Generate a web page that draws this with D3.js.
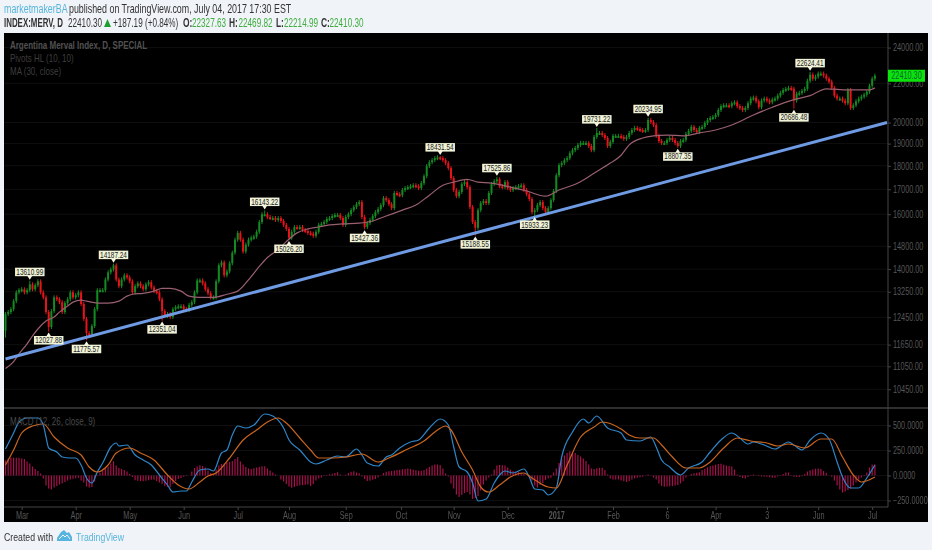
<!DOCTYPE html>
<html><head><meta charset="utf-8">
<script src="https://cdn.jsdelivr.net/npm/d3@7/dist/d3.min.js"></script>
<style>
html,body{margin:0;padding:0;background:#f0f3f8;}
svg{display:block;filter:blur(0.3px);}
text{font-family:"Liberation Sans",sans-serif;}
</style></head><body>
<svg id="c" width="932" height="550"></svg>
<script>
// ---- price data (one close per daily bar) ----
const firstOpen = 12050;
const closes = [
12550,12610,12700,12950,13230,13300,13330,13230,13300,13490,13330,13460,13590,13230,13070,12610,12160,12640,13070,13010,
12920,12610,12890,13010,13230,13070,13140,13230,12860,12400,11980,11950,12190,12700,13300,13300,13300,13650,13890,13990,
14130,13650,13430,13650,13790,13720,13590,13230,13430,13520,13430,13330,13490,13560,13390,13270,13230,13010,12640,12490,
12550,12460,12700,12760,12790,12790,12700,12670,12830,12920,13230,13620,13620,13520,13330,13200,13070,13070,13590,14130,
14230,13790,13920,14200,14570,15040,15290,15040,14610,14860,15040,15110,15150,15330,15700,16000,16000,15890,15850,15850,
15780,15850,15740,15590,15440,15110,15330,15510,15480,15510,15400,15360,15290,15260,15180,15330,15590,15630,15700,15820,
15850,15930,15970,15970,15850,15590,15890,16000,16160,16280,16400,16480,15890,15510,15660,15780,15930,16080,16200,16360,
16640,16560,16400,16240,16850,16800,16760,16970,17050,17090,17130,17170,17130,17050,17260,17550,17990,18160,18250,18340,
18380,18340,18250,18120,17900,17470,16970,16720,16890,17220,17300,17090,16280,15700,15480,16160,16440,16520,16440,16850,
17220,17340,17420,17130,17090,17300,17050,16970,17050,17090,17130,17170,16970,16800,16600,16080,16160,16360,16480,16240,
16080,16240,16560,16930,17590,18030,18120,18250,18340,18560,18700,18800,18940,19030,19030,19030,18890,18700,19310,19500,
19500,19400,19260,18890,19080,19360,19360,19360,19310,19220,19310,19500,19640,19740,19690,19640,19600,19640,20120,20020,
19880,19360,19120,19030,19030,19170,19260,19170,19030,18890,19120,19170,19450,19600,19790,19640,19550,19740,19790,19980,
20120,20220,20270,20370,20620,20810,20860,20860,20810,20960,21010,20810,20720,20620,20720,20960,21200,21250,21060,20760,
21100,21200,21100,21010,21150,21200,21350,21500,21650,21710,21760,21710,21100,21450,21500,21600,21710,22140,22470,22250,
22360,22530,22530,22420,22250,22090,21760,21350,21200,21200,21100,20960,21650,20720,20860,21060,21200,21300,21400,21550,
21870,22250,22410.30];

// ---- pivots ----
const pivotBars   = [9,16,30,40,58,96,105,133,161,174,182,196,219,238,249,292,298];
const pivotValues = [13610.99,12027.88,11775.57,14187.24,12351.04,16143.22,15026.20,15427.36,18431.54,15188.55,17525.86,15933.23,19731.22,20234.95,18807.35,20686.48,22624.41];
const pivotIsHigh = [1,0,0,1,0,1,0,0,1,0,1,0,1,1,0,0,1];

// ---- MA(30, close) read at these bars ----
const maBars = [0,3,5,8,10,13,15,18,20,23,25,28,30,34,38,42,45,47,51,55,58,61,65,68,72,77,82,86,91,94,97,101,104,108,112,116,120,125,131,136,141,147,152,157,162,166,171,175,180,187,193,200,205,212,218,224,228,231,236,240,245,251,257,263,269,277,284,292,298,304,312,320,322];
const maValues = [10990,11180,11390,11670,11900,12190,12340,12460,12610,12800,12920,12980,12950,12890,12890,12950,13110,13170,13200,13270,13360,13360,13270,13110,13070,13070,13170,13270,13750,14090,14400,14680,14970,15290,15440,15510,15590,15630,15660,15740,15930,16160,16360,16760,17170,17300,17420,17300,17260,17090,16930,16720,16970,17260,17680,18120,18470,18940,19260,19360,19400,19360,19500,19640,19880,20370,20760,21150,21350,21710,21650,21650,21760];

// ---- trend line ----
const trendBars = [0,326.5];
const trendValues = [11250,20000];

// ---- MACD lines read at these bars ----
const macdBars = [0,3,5,8,12,14,15,16,19,21,24,26,28,30,32,34,36,39,41,42,45,48,51,54,57,60,62,65,67,69,72,75,77,80,82,84,86,89,92,96,99,103,105,109,113,115,119,123,126,130,132,134,138,141,143,146,150,153,157,161,164,166,168,171,173,175,178,181,183,185,188,192,194,196,199,201,204,206,210,214,216,219,223,228,230,235,239,241,243,246,250,253,258,261,265,269,272,275,277,281,285,290,293,295,298,302,305,308,310,313,316,319,322];
const macdValues = [265,425,535,575,575,505,385,275,235,185,175,175,105,-25,-75,35,125,285,325,295,305,205,155,105,5,-95,-165,-155,-155,-65,55,65,45,225,255,405,495,475,505,615,595,475,355,255,135,115,155,195,185,265,205,125,95,185,205,275,335,355,475,565,505,285,85,35,-75,-255,-235,-75,5,45,25,65,-15,-135,-145,-195,-125,185,435,565,525,595,475,425,355,345,385,285,155,85,5,75,135,235,355,425,375,315,335,305,265,335,285,255,355,425,365,135,-15,-125,-125,-25,105];
const signalBars = [0,3,6,10,14,18,23,28,31,34,38,41,46,50,55,60,64,68,72,75,78,83,88,93,97,101,104,109,113,116,121,126,132,138,142,149,155,160,163,165,169,173,176,179,183,187,192,195,201,204,208,213,218,221,228,231,235,240,243,247,252,257,261,266,271,276,282,286,290,296,302,306,310,314,317,322];
const signalValues = [105,255,425,495,515,385,275,205,85,35,105,225,275,225,155,5,-95,-135,-65,-5,25,175,355,455,535,575,525,375,255,175,175,185,215,135,175,265,345,455,495,455,235,55,-115,-165,-95,-15,25,-25,-115,-125,105,385,485,535,465,405,375,375,305,185,75,75,135,275,375,345,325,295,315,275,365,365,185,5,-65,-15];

// ---- MACD histogram, one value per bar ----
const histogram = [
150,170,177,177,177,177,170,165,140,120,90,65,45,20,-30,-100,-130,-140,-120,-105,
-90,-80,-65,-50,-40,-33,-28,-23,-50,-70,-110,-120,-115,-60,-5,27,45,70,90,120,
143,100,75,65,55,40,15,-15,-47,-52,-55,-57,-52,-48,-42,-42,-55,-70,-85,-105,
-115,-117,-85,-55,-35,-25,-12,-5,0,40,75,90,103,95,80,50,25,15,60,100,
115,120,130,135,145,165,185,140,110,85,70,65,72,80,85,92,93,70,50,30,
10,0,-40,-60,-85,-110,-123,-115,-105,-100,-95,-92,-90,-105,-85,-50,-30,-20,-5,5,
12,18,25,33,10,0,8,25,38,43,30,22,-10,-35,-55,-52,-42,-35,-20,-3,
25,38,42,45,50,55,58,62,65,70,65,58,52,48,47,55,70,85,100,110,
110,105,70,20,-10,-80,-130,-190,-215,-195,-175,-165,-190,-235,-225,-205,-150,-90,-50,-20,
10,60,100,105,103,100,80,60,45,40,35,28,15,0,-10,-50,-100,-120,-95,-75,
-45,-30,-22,30,70,125,165,200,225,243,235,225,205,190,170,145,110,70,65,72,
77,78,55,10,-30,-40,-40,-40,-50,-58,-65,-55,-40,-28,-22,-18,-12,-2,10,-2,
-20,-40,-80,-105,-113,-110,-108,-105,-100,-95,-80,-57,-20,0,15,22,28,33,55,68,
82,92,100,108,115,117,108,100,95,90,60,10,-15,-25,-30,-15,5,10,-2,-5,
-10,-12,-12,-18,-22,-23,-10,5,15,30,30,5,-13,-15,-14,-8,15,40,53,60,
68,70,65,45,27,0,-13,-50,-100,-140,-170,-160,-145,-130,-100,-70,-40,-20,-5,30,
80,110,110];

// ---- axes ----
const priceTicks = [24000,22000,20000,19000,18000,17000,16000,14800,14000,13250,12450,11650,11050,10450];
const macdTicks = [500,250,0,-250];
const timeBars = [6,26,46,66,86,105,126,146.5,166,186,204,225,245,263,282,301,321];
const timeLabels = ["Mar","Apr","May","Jun","Jul","Aug","Sep","Oct","Nov","Dec","2017","Feb","6","Apr","3","Jun","Jul"];
const lastPrice = 22410.30;

const svg = d3.select("#c");
const W = {left:4, right:928, top:33, bottom:522, axis:888, paneSep:408, timeTop:507};
const x = d3.scaleLinear().domain([0,322]).range([5.5,874.9]);
const y = d3.scaleLog().domain([10450,24000]).range([389.3,47.6]);
const m = d3.scaleLinear().domain([-250,500]).range([500.5,425.5]);

// squeeze text horizontally about its own x, the reference face is narrower than the installed ones
function condense(sel,k){
  sel.each(function(){
    const ax=+this.getAttribute("x")||0;
    this.setAttribute("transform",`translate(${ax},0) scale(${k},1) translate(${-ax},0)`);
  });
}

svg.append("rect").attr("x",W.left).attr("y",W.top).attr("width",W.right-W.left).attr("height",W.bottom-W.top).attr("fill","#000");
const plot = svg.append("g");

// grid
plot.append("g").selectAll("line").data(priceTicks).join("line")
  .attr("x1",W.left).attr("x2",W.axis).attr("y1",d=>y(d)).attr("y2",d=>y(d)).attr("stroke","#0f0f0f");
plot.append("g").selectAll("line").data(macdTicks).join("line")
  .attr("x1",W.left).attr("x2",W.axis).attr("y1",d=>m(d)).attr("y2",d=>m(d)).attr("stroke","#0f0f0f");

// histogram
plot.append("g").selectAll("line").data(histogram).join("line")
  .attr("x1",(d,i)=>x(i)).attr("x2",(d,i)=>x(i))
  .attr("y1",m(0)).attr("y2",d=>m(d))
  .attr("stroke","#a6104b").attr("stroke-width",1.2);

// candles
const opens = closes.map((c,i)=> i? closes[i-1] : firstOpen);
const pivotAt = new Map(pivotBars.map((b,i)=>[b,i]));
const candle = plot.append("g").selectAll("g").data(closes).join("g");
candle.append("line")
  .attr("x1",(d,i)=>x(i)).attr("x2",(d,i)=>x(i))
  .attr("y1",(d,i)=>{let v=Math.max(d,opens[i])*1.005; const p=pivotAt.get(i); if(p!==undefined&&pivotIsHigh[p]) v=pivotValues[p]; return y(v);})
  .attr("y2",(d,i)=>{let v=Math.min(d,opens[i])*0.995; if(i===0) v=11850; const p=pivotAt.get(i); if(p!==undefined&&!pivotIsHigh[p]) v=pivotValues[p]; return y(v);})
  .attr("stroke",(d,i)=>d>=opens[i]?"#138a22":"#e8121a").attr("stroke-width",1);
candle.append("rect")
  .attr("x",(d,i)=>x(i)-1).attr("width",2)
  .attr("y",(d,i)=>y(Math.max(d,opens[i])))
  .attr("height",(d,i)=>Math.max(2,Math.abs(y(d)-y(opens[i]))))
  .attr("fill",(d,i)=>d>=opens[i]?"#138a22":"#e8121a");

// MA
plot.append("path").datum(maValues)
  .attr("d",d3.line().x((d,i)=>x(maBars[i])).y(d=>y(d)).curve(d3.curveMonotoneX))
  .attr("fill","none").attr("stroke","#9a5f70").attr("stroke-width",1.2);

// trend
plot.append("path").datum(trendValues)
  .attr("d",d3.line().x((d,i)=>x(trendBars[i])).y(d=>y(d)))
  .attr("fill","none").attr("stroke","#6f9be4").attr("stroke-width",3);

// MACD lines
plot.append("path").datum(macdValues)
  .attr("d",d3.line().x((d,i)=>x(macdBars[i])).y(d=>m(d)).curve(d3.curveMonotoneX))
  .attr("fill","none").attr("stroke","#2f86c8").attr("stroke-width",1.2);
plot.append("path").datum(signalValues)
  .attr("d",d3.line().x((d,i)=>x(signalBars[i])).y(d=>m(d)).curve(d3.curveMonotoneX))
  .attr("fill","none").attr("stroke","#c9651f").attr("stroke-width",1.2);

// pivots
const piv = svg.append("g").selectAll("g").data(pivotBars).join("g")
  .attr("transform",(b,i)=>`translate(${x(b)},${y(pivotValues[i])})`);
piv.append("path")
  .attr("d",(b,i)=>pivotIsHigh[i]?"M-2.5,-5 L2.5,-5 L0,-1 Z":"M-2.5,5 L2.5,5 L0,1 Z")
  .attr("fill","#f4f6df");
piv.append("rect")
  .attr("x",-14.75).attr("width",29.5).attr("height",8.5)
  .attr("y",(b,i)=>pivotIsHigh[i]?-13:4.5)
  .attr("fill","#f0f3d6");
piv.append("text")
  .attr("text-anchor","middle").attr("font-size",8.5).attr("fill","#222")
  .attr("y",(b,i)=>pivotIsHigh[i]?-5.8:11.7)
  .text((b,i)=>pivotValues[i].toFixed(2)).call(condense,0.76);

// axis frame
svg.append("line").attr("x1",W.axis).attr("x2",W.axis).attr("y1",W.top).attr("y2",W.timeTop).attr("stroke","#444");
svg.append("line").attr("x1",W.left).attr("x2",W.right).attr("y1",W.paneSep).attr("y2",W.paneSep).attr("stroke","#3e3e3e").attr("stroke-width",1.4);
svg.append("line").attr("x1",W.left).attr("x2",W.axis).attr("y1",W.timeTop).attr("y2",W.timeTop).attr("stroke","#444");

function styleAxis(g){
  g.select(".domain").remove();
  g.selectAll("line").attr("stroke","#444");
  g.selectAll("text").attr("fill","#565656").attr("font-size",10).style("font-family",'"Liberation Sans",sans-serif').call(condense,0.73);
}
svg.append("g").attr("transform",`translate(${W.axis},0)`)
  .call(d3.axisRight(y).tickValues(priceTicks).tickFormat(d3.format(".2f")).tickSize(3).tickPadding(2)).call(styleAxis);
svg.append("g").attr("transform",`translate(${W.axis},0)`)
  .call(d3.axisRight(m).tickValues(macdTicks).tickFormat(d3.format(".4f")).tickSize(3).tickPadding(2)).call(styleAxis);

const timeScale = d3.scaleOrdinal().domain(timeLabels.map((d,i)=>i)).range(timeBars.map(b=>x(b)));
const timeG = svg.append("g").attr("transform",`translate(0,${W.timeTop})`)
  .call(d3.axisBottom(timeScale).tickValues(timeLabels.map((d,i)=>i)).tickFormat(i=>timeLabels[i]).tickSize(3).tickPadding(2));
timeG.selectAll("text").filter(i=>timeLabels[i]==="2017").attr("font-weight","bold");
timeG.call(styleAxis);

// last price badge
svg.append("rect").attr("x",W.axis).attr("y",y(lastPrice)-6).attr("width",37).attr("height",12).attr("fill","#0be30b");
svg.append("text").attr("x",W.axis+18.5).attr("y",y(lastPrice)+3.5).attr("text-anchor","middle")
  .attr("font-size",10).attr("fill","#063").text(lastPrice.toFixed(2)).call(condense,0.73);

// legends
const legend = [["Argentina Merval Index, D, SPECIAL",10,49,"#515151",700],["Pivots HL (10, 10)",10,62,"#3e3e3e",400],["MA (30, close)",10,75,"#3e3e3e",400],["MACD (12, 26, close, 9)",10,425,"#4a4a4a",400]];
svg.append("g").selectAll("text").data(legend).join("text")
  .attr("x",d=>d[1]).attr("y",d=>d[2]).attr("fill",d=>d[3]).attr("font-weight",d=>d[4]).attr("font-size",10).text(d=>d[0]).call(condense,0.8);

// header, laid out in segments
const DARK="#333", GREEN="#3fae3f";
const headerSegments = [
 ["marketmakerBA",4,13,"#57b5dc",400,0.74],
 ["published on TradingView.com, July 04, 2017 17:30 EST",69,13,DARK,400,0.74],
 ["INDEX:MERV, D",4,27,DARK,700,0.66],
 ["22410.30",68,27,DARK,400,0.68],
 ["+187.19 (+0.84%)",113,27,DARK,400,0.68],
 ["O:",183,27,DARK,700,0.7],["22327.63",192,27,GREEN,400,0.68],
 ["H:",229,27,DARK,700,0.7],["22469.82",238.5,27,GREEN,400,0.68],
 ["L:",276,27,DARK,700,0.7],["22214.99",284,27,GREEN,400,0.68],
 ["C:",321,27,DARK,700,0.7],["22410.30",329.5,27,GREEN,400,0.68]
];
svg.append("g").selectAll("text").data(headerSegments).join("text")
  .attr("x",d=>d[1]).attr("y",d=>d[2]).attr("fill",d=>d[3]).attr("font-weight",d=>d[4]).attr("font-size",12)
  .text(d=>d[0]).each(function(d){d3.select(this).call(condense,d[5]);});
svg.append("path").attr("d","M104,27 L111,27 L107.5,19 Z").attr("fill","#1e9e2e");

// footer
svg.append("text").attr("x",4).attr("y",541).attr("font-size",11.5).attr("fill","#333").text("Created with").call(condense,0.76);
svg.append("path").attr("d","M57,541 L57,538 L61,532 L64,530 L67,533 L69,532 L72,537 L72,541 Z").attr("fill","#56b4de");
svg.append("path").attr("d","M59,539 L63,535 L65,537 L67,535 L70,539").attr("fill","none").attr("stroke","#f0f3f8").attr("stroke-width",1);
svg.append("text").attr("x",76).attr("y",541).attr("font-size",11.5).attr("fill","#56b4de").text("TradingView").call(condense,0.76);
</script>
</body></html>
